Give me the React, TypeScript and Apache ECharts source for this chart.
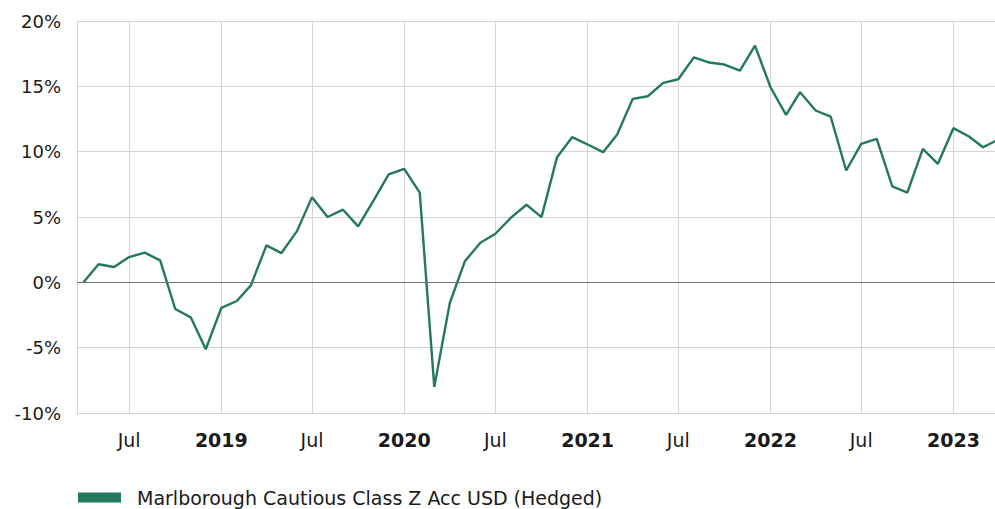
import React, { useEffect, useRef } from "react";
import * as echarts from "echarts";

const seriesName = "Marlborough Cautious Class Z Acc USD (Hedged)";

const months: string[] = [
  "2018-04-01", "2018-05-01", "2018-06-01", "2018-07-01", "2018-08-01", "2018-09-01",
  "2018-10-01", "2018-11-01", "2018-12-01",
  "2019-01-01", "2019-02-01", "2019-03-01", "2019-04-01", "2019-05-01", "2019-06-01",
  "2019-07-01", "2019-08-01", "2019-09-01", "2019-10-01", "2019-11-01", "2019-12-01",
  "2020-01-01", "2020-02-01", "2020-03-01", "2020-04-01", "2020-05-01", "2020-06-01",
  "2020-07-01", "2020-08-01", "2020-09-01", "2020-10-01", "2020-11-01", "2020-12-01",
  "2021-01-01", "2021-02-01", "2021-03-01", "2021-04-01", "2021-05-01", "2021-06-01",
  "2021-07-01", "2021-08-01", "2021-09-01", "2021-10-01", "2021-11-01", "2021-12-01",
  "2022-01-01", "2022-02-01", "2022-03-01", "2022-04-01", "2022-05-01", "2022-06-01",
  "2022-07-01", "2022-08-01", "2022-09-01", "2022-10-01", "2022-11-01", "2022-12-01",
  "2023-01-01", "2023-02-01", "2023-03-01", "2023-04-01",
];

const values: number[] = [
  0, 1.38, 1.17, 1.93, 2.27, 1.68, -2.04, -2.68, -5.12,
  -1.96, -1.43, -0.23, 2.83, 2.24, 3.92, 6.52, 5.0, 5.56, 4.28, 6.27, 8.26,
  8.69, 6.86, -8.0, -1.58, 1.61, 3.03, 3.72, 4.95, 5.94, 4.99, 9.58, 11.11,
  10.55, 9.96, 11.31, 14.04, 14.24, 15.27, 15.54, 17.22, 16.82, 16.67, 16.21, 18.12,
  14.93, 12.82, 14.55, 13.15, 12.69, 8.56, 10.6, 10.98, 7.34, 6.86, 10.22, 9.07,
  11.8, 11.16, 10.34, 10.93,
];

const yTicks = { min: -10, max: 20, interval: 5 };
const xRange = { min: "2018-03-19", max: "2023-03-25" };
const monthLabel = "Jul";

const FONT = "Verdana, 'DejaVu Sans', sans-serif";
const LINE_COLOR = "#24785b";
const TEXT = "#1a1a1a";
const GRID = "#d4d4d4";

export default function App() {
  const ref = useRef<HTMLDivElement>(null);
  useEffect(() => {
    document.body.style.margin = "0";
    if (!ref.current) return;
    const chart = echarts.init(ref.current, undefined, { renderer: "svg" });
    const ts = (s: string) => {
      const [y, m, d] = s.split("-").map(Number);
      return Date.UTC(y, m - 1, d);
    };
    const sixMonths = 182.5 * 24 * 3600 * 1000;
    chart.setOption({
      animation: false,
      textStyle: { fontFamily: FONT },
      grid: { left: 77, right: 0, top: 21, bottom: 96, containLabel: false },
      legend: {
        left: 78,
        top: 488,
        padding: 0,
        icon: "rect",
        itemWidth: 43,
        itemHeight: 10,
        textStyle: { fontFamily: FONT, fontSize: 19, color: TEXT, padding: [0, 0, 0, 11] },
        data: [seriesName],
      },
      xAxis: {
        type: "time",
        useUTC: true,
        min: ts(xRange.min),
        max: ts(xRange.max),
        minInterval: sixMonths,
        maxInterval: sixMonths,
        axisLine: { show: false },
        axisTick: { show: true, length: 5, lineStyle: { color: GRID } },
        splitLine: { show: true, lineStyle: { color: GRID, width: 1 } },
        axisLabel: {
          margin: 17,
          fontSize: 19,
          fontFamily: FONT,
          color: TEXT,
          hideOverlap: false,
          formatter: (v: number) => {
            const d = new Date(v);
            const m = d.getUTCMonth();
            if (m === 0) return "{y|" + d.getUTCFullYear() + "}";
            if (m === 6) return monthLabel;
            return "";
          },
          rich: { y: { fontWeight: "bold", fontSize: 19, fontFamily: FONT, color: TEXT } },
        },
      },
      yAxis: {
        type: "value",
        min: yTicks.min,
        max: yTicks.max,
        interval: yTicks.interval,
        axisLine: { show: false },
        axisTick: { show: false },
        splitLine: { show: true, lineStyle: { color: GRID, width: 1 } },
        axisLabel: {
          margin: 16,
          fontSize: 18,
          fontFamily: FONT,
          color: TEXT,
          formatter: (v: number) => v + "%",
        },
      },
      series: [
        {
          name: seriesName,
          type: "line",
          data: months.map((m, i) => [ts(m), values[i]]),
          showSymbol: false,
          symbol: "none",
          lineStyle: { color: LINE_COLOR, width: 2.4 },
          itemStyle: { color: LINE_COLOR },
          markLine: {
            silent: true,
            symbol: "none",
            label: { show: false },
            lineStyle: { color: "#707070", width: 1, type: "solid" },
            data: [{ yAxis: 0 }],
          },
          z: 3,
        },
      ],
    });
    return () => chart.dispose();
  }, []);
  return <div ref={ref} style={{ width: 995, height: 509 }} />;
}
